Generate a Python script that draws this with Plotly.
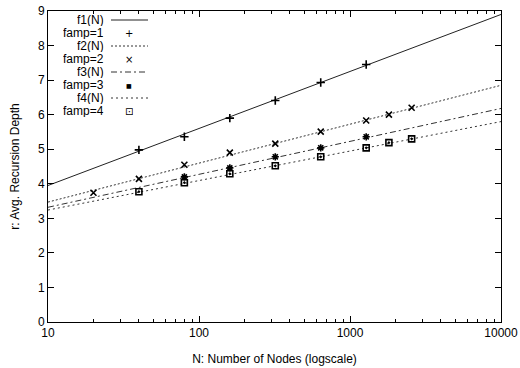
import plotly.graph_objects as go

# ---- data ----
N_line = [10, 10000]
f1 = [3.95, 8.90]
f2 = [3.47, 6.85]
f3 = [3.32, 6.18]
f4 = [3.24, 5.80]

N_famp1 = [40, 80, 160, 320, 640, 1280]
r_famp1 = [4.98, 5.36, 5.90, 6.41, 6.93, 7.45]

N_famp2 = [20, 40, 80, 160, 320, 640, 1280, 1810, 2560]
r_famp2 = [3.74, 4.14, 4.55, 4.90, 5.16, 5.51, 5.83, 6.00, 6.20]

N_famp3 = [80, 160, 320, 640, 1280]
r_famp3 = [4.20, 4.46, 4.78, 5.04, 5.36]

N_famp4 = [40, 80, 160, 320, 640, 1280, 1810, 2560]
r_famp4 = [3.77, 4.03, 4.29, 4.52, 4.78, 5.04, 5.19, 5.30]

x_ticks = [10, 100, 1000, 10000]
x_ticklabels = ["10", "100", "1000", "10000"]

legend_labels = ["f1(N)", "famp=1", "f2(N)", "famp=2", "f3(N)", "famp=3", "f4(N)", "famp=4"]

FONT = "Liberation Sans, Arial, Helvetica, sans-serif"
BLACK = "#000000"

fig = go.Figure()

line_styles = [
    (f1, "solid", "#222222"),
    (f2, "2px,2px", "#333333"),
    (f3, "6px,3px,2px,3px", "#333333"),
    (f4, "2px,3px", "#333333"),
]
for vals, dash, col in line_styles:
    fig.add_trace(go.Scatter(x=N_line, y=vals, mode="lines",
                             line=dict(color=col, width=1, dash=dash),
                             showlegend=False, hoverinfo="skip"))

marker_styles = [
    (N_famp1, r_famp1, "cross-thin-open", 6),
    (N_famp2, r_famp2, "x-thin-open", 6),
    (N_famp3, r_famp3, "asterisk-open", 6),
    (N_famp4, r_famp4, "square-open-dot", 6),
]
for xs, ys, sym, sz in marker_styles:
    fig.add_trace(go.Scatter(x=xs, y=ys, mode="markers",
                             marker=dict(symbol=sym, size=sz, color=BLACK,
                                         line=dict(color=BLACK, width=1.6)),
                             showlegend=False))

# ---- custom gnuplot-style legend (text left, sample right) ----
L, R, T, B = 48, 19, 11, 46
W, H = 520, 368
pw, ph = W - L - R, H - T - B

def px(xp):
    return (xp - L) / pw

def py(yp):
    return (H - B - yp) / ph

rows = [20, 33, 46, 59, 72, 85, 98, 111]
annotations = []
shapes = []
marker_chars = {1: "+", 3: "×", 5: "■", 7: "⊡"}
line_dash_map = {0: "solid", 2: "2px,2px", 4: "6px,3px,2px,3px", 6: "2px,3px"}
for i, (lab, yrow) in enumerate(zip(legend_labels, rows)):
    annotations.append(dict(x=px(105), y=py(yrow), xref="paper", yref="paper",
                            text=lab, showarrow=False, xanchor="right",
                            yanchor="middle", borderpad=0, height=12,
                            font=dict(family=FONT, size=12, color=BLACK)))
    if i in line_dash_map:
        shapes.append(dict(type="line", xref="paper", yref="paper",
                           x0=px(111), x1=px(148), y0=py(yrow), y1=py(yrow),
                           line=dict(color="#333333" if i else "#222222", width=1,
                                     dash=line_dash_map[i])))
    else:
        sz = 10 if i != 5 else 6
        annotations.append(dict(x=px(129), y=py(yrow), xref="paper", yref="paper",
                                text=marker_chars[i], showarrow=False, xanchor="center",
                                yanchor="middle", borderpad=0, height=12,
                                font=dict(family="DejaVu Sans", size=sz, color=BLACK)))

fig.update_layout(
    width=W, height=H,
    margin=dict(l=L, r=R, t=T, b=B),
    paper_bgcolor="white", plot_bgcolor="white",
    font=dict(family=FONT, size=12, color=BLACK),
    showlegend=False,
    annotations=annotations,
    shapes=shapes,
)

fig.update_xaxes(
    type="log", range=[1, 4], automargin=False,
    tickvals=x_ticks, ticktext=x_ticklabels,
    ticks="inside", ticklen=6, tickcolor=BLACK, tickwidth=1,
    showline=True, linecolor=BLACK, linewidth=1, mirror="ticks",
    showgrid=False, zeroline=False,
    minor=dict(ticks="inside", ticklen=3, tickcolor=BLACK, tickwidth=1,
               dtick="D1", showgrid=False),
    tickfont=dict(family=FONT, size=12, color=BLACK),
    title=dict(text="N: Number of Nodes (logscale)",
               font=dict(family=FONT, size=12, color=BLACK)),
)
fig.update_yaxes(
    range=[0, 9], dtick=1, automargin=False,
    ticks="inside", ticklen=6, tickcolor=BLACK, tickwidth=1,
    showline=True, linecolor=BLACK, linewidth=1, mirror="ticks",
    showgrid=False, zeroline=False,
    tickfont=dict(family=FONT, size=12, color=BLACK),
    title=dict(text="r: Avg. Recursion Depth",
               font=dict(family=FONT, size=12, color=BLACK)),
)

fig.write_html("out.html", config={"displayModeBar": False},
               post_script="document.body.style.margin='0';document.body.style.overflow='hidden';")
